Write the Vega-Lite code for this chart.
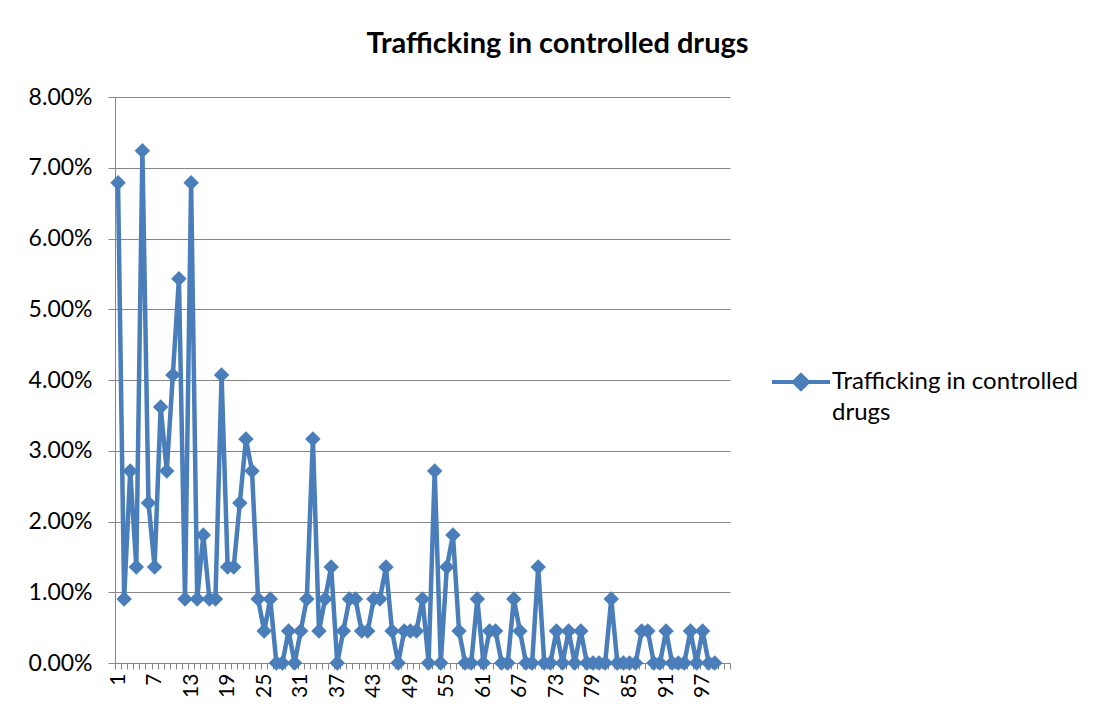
{
  "$schema": "https://vega.github.io/schema/vega-lite/v6.json",
  "autosize": {"type": "none"},
  "padding": {"left": 115, "top": 97, "right": 377, "bottom": 59},
  "width": 615,
  "height": 566,
  "background": "white",
  "title": {
    "text": "Trafficking in controlled drugs",
    "font": "Lato",
    "fontSize": 29,
    "fontWeight": "bold",
    "color": "#000000",
    "anchor": "middle",
    "frame": "group",
    "dx": 135,
    "offset": 27
  },
  "data": {
    "values": [
      {"n": 1, "v": 0.067873}, {"n": 2, "v": 0.00905}, {"n": 3, "v": 0.027149}, {"n": 4, "v": 0.013575},
      {"n": 5, "v": 0.072398}, {"n": 6, "v": 0.022624}, {"n": 7, "v": 0.013575}, {"n": 8, "v": 0.036199},
      {"n": 9, "v": 0.027149}, {"n": 10, "v": 0.040724}, {"n": 11, "v": 0.054299}, {"n": 12, "v": 0.00905},
      {"n": 13, "v": 0.067873}, {"n": 14, "v": 0.00905}, {"n": 15, "v": 0.0181}, {"n": 16, "v": 0.00905},
      {"n": 17, "v": 0.00905}, {"n": 18, "v": 0.040724}, {"n": 19, "v": 0.013575}, {"n": 20, "v": 0.013575},
      {"n": 21, "v": 0.022624}, {"n": 22, "v": 0.031674}, {"n": 23, "v": 0.027149}, {"n": 24, "v": 0.00905},
      {"n": 25, "v": 0.004525}, {"n": 26, "v": 0.00905}, {"n": 27, "v": 0}, {"n": 28, "v": 0},
      {"n": 29, "v": 0.004525}, {"n": 30, "v": 0}, {"n": 31, "v": 0.004525}, {"n": 32, "v": 0.00905},
      {"n": 33, "v": 0.031674}, {"n": 34, "v": 0.004525}, {"n": 35, "v": 0.00905}, {"n": 36, "v": 0.013575},
      {"n": 37, "v": 0}, {"n": 38, "v": 0.004525}, {"n": 39, "v": 0.00905}, {"n": 40, "v": 0.00905},
      {"n": 41, "v": 0.004525}, {"n": 42, "v": 0.004525}, {"n": 43, "v": 0.00905}, {"n": 44, "v": 0.00905},
      {"n": 45, "v": 0.013575}, {"n": 46, "v": 0.004525}, {"n": 47, "v": 0}, {"n": 48, "v": 0.004525},
      {"n": 49, "v": 0.004525}, {"n": 50, "v": 0.004525}, {"n": 51, "v": 0.00905}, {"n": 52, "v": 0},
      {"n": 53, "v": 0.027149}, {"n": 54, "v": 0}, {"n": 55, "v": 0.013575}, {"n": 56, "v": 0.0181},
      {"n": 57, "v": 0.004525}, {"n": 58, "v": 0}, {"n": 59, "v": 0}, {"n": 60, "v": 0.00905},
      {"n": 61, "v": 0}, {"n": 62, "v": 0.004525}, {"n": 63, "v": 0.004525}, {"n": 64, "v": 0},
      {"n": 65, "v": 0}, {"n": 66, "v": 0.00905}, {"n": 67, "v": 0.004525}, {"n": 68, "v": 0},
      {"n": 69, "v": 0}, {"n": 70, "v": 0.013575}, {"n": 71, "v": 0}, {"n": 72, "v": 0},
      {"n": 73, "v": 0.004525}, {"n": 74, "v": 0}, {"n": 75, "v": 0.004525}, {"n": 76, "v": 0},
      {"n": 77, "v": 0.004525}, {"n": 78, "v": 0}, {"n": 79, "v": 0}, {"n": 80, "v": 0},
      {"n": 81, "v": 0}, {"n": 82, "v": 0.00905}, {"n": 83, "v": 0}, {"n": 84, "v": 0},
      {"n": 85, "v": 0}, {"n": 86, "v": 0}, {"n": 87, "v": 0.004525}, {"n": 88, "v": 0.004525},
      {"n": 89, "v": 0}, {"n": 90, "v": 0}, {"n": 91, "v": 0.004525}, {"n": 92, "v": 0},
      {"n": 93, "v": 0}, {"n": 94, "v": 0}, {"n": 95, "v": 0.004525}, {"n": 96, "v": 0},
      {"n": 97, "v": 0.004525}, {"n": 98, "v": 0}, {"n": 99, "v": 0}
    ]
  },
  "mark": {
    "type": "line",
    "strokeWidth": 4.5,
    "point": {"shape": "diamond", "size": 240, "filled": true, "opacity": 1}
  },
  "encoding": {
    "x": {
      "field": "n",
      "type": "ordinal",
      "bandPosition": 0.5,
      "scale": {
        "type": "band",
        "paddingInner": 0,
        "paddingOuter": 0,
        "domain": [1,2,3,4,5,6,7,8,9,10,11,12,13,14,15,16,17,18,19,20,21,22,23,24,25,26,27,28,29,30,31,32,33,34,35,36,37,38,39,40,41,42,43,44,45,46,47,48,49,50,51,52,53,54,55,56,57,58,59,60,61,62,63,64,65,66,67,68,69,70,71,72,73,74,75,76,77,78,79,80,81,82,83,84,85,86,87,88,89,90,91,92,93,94,95,96,97,98,99,100,101]
      },
      "axis": {
        "title": null,
        "labelExpr": "datum.value % 6 == 1 ? datum.label : ''",
        "labelAngle": 270,
        "labelAlign": "right",
        "labelBaseline": "middle",
        "labelOverlap": false,
        "labelFont": "Lato",
        "labelFontSize": 21,
        "labelColor": "#000000",
        "labelPadding": 4,
        "tickBand": "extent",
        "tickSize": 6,
        "tickColor": "#868686",
        "domainColor": "#868686",
        "grid": false
      }
    },
    "y": {
      "field": "v",
      "type": "quantitative",
      "scale": {"domain": [0, 0.08], "nice": false},
      "axis": {
        "title": null,
        "values": [0, 0.01, 0.02, 0.03, 0.04, 0.05, 0.06, 0.07, 0.08],
        "format": ".2%",
        "labelFont": "Lato",
        "labelFontSize": 23,
        "labelColor": "#000000",
        "labelPadding": 16,
        "tickSize": 7,
        "tickColor": "#868686",
        "domainColor": "#868686",
        "grid": true,
        "gridColor": "#868686",
        "gridWidth": 1
      }
    },
    "color": {
      "datum": "Trafficking in controlled drugs",
      "type": "nominal",
      "scale": {"range": ["#4A7EBB"]},
      "legend": {
        "title": null,
        "orient": "none",
        "legendX": 655,
        "legendY": 254,
        "padding": 0,
        "labelExpr": "['Trafficking in controlled', 'drugs']",
        "labelFont": "Lato",
        "labelFontSize": 24,
        "labelColor": "#000000",
        "labelLimit": 400,
        "labelOffset": 0,
        "labelBaseline": "middle",
        "symbolType": "M-1,0L1,0M0,-0.24L0.24,0L0,0.24L-0.24,0Z",
        "symbolSize": 3364,
        "symbolStrokeWidth": 4,
        "symbolFillColor": "#4A7EBB",
        "symbolStrokeColor": "#4A7EBB",
        "encode": {
          "labels": {
            "update": {
              "lineHeight": {"value": 31}
            }
          },
          "symbols": {
            "update": {
              "fill": {"value": "#4A7EBB"},
              "stroke": {"value": "#4A7EBB"},
              "strokeWidth": {"value": 4},
              "opacity": {"value": 1},
              "fillOpacity": {"value": 1},
              "shape": {"value": "M-1,0L1,0M0,-0.24L0.24,0L0,0.24L-0.24,0Z"},
              "size": {"value": 3364}
            }
          }
        }
      }
    }
  },
  "config": {
    "view": {"stroke": null}
  }
}
